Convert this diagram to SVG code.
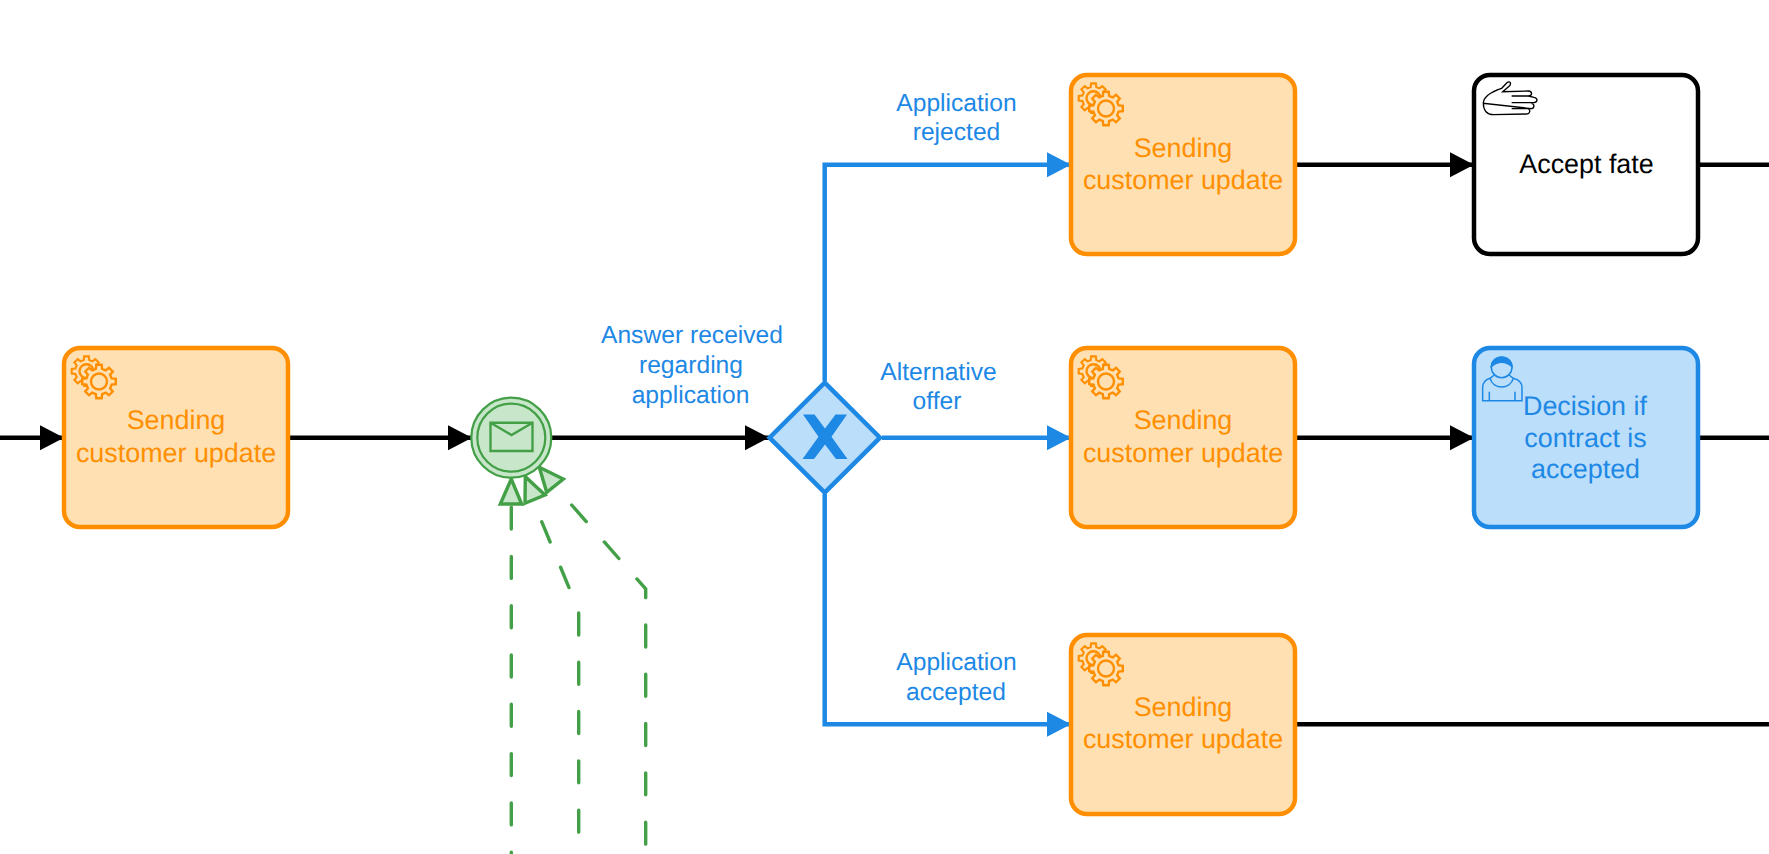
<svg xmlns="http://www.w3.org/2000/svg" xmlns:xlink="http://www.w3.org/1999/xlink" width="1769" height="854" viewBox="0 0 1769 854">
<style>
text{font-family:"Liberation Sans",Arial,sans-serif;text-anchor:middle;text-rendering:geometricPrecision}
.task{font-size:26.88px}
.lbl{font-size:24.64px;fill:#1e88e5}
.svc rect{fill:#ffe0b2;stroke:#ff8f00;stroke-width:4.48}
.svc text{fill:#ff8f00}
.blk{fill:none;stroke:#000;stroke-width:4.48}
.blu{fill:none;stroke:#1e88e5;stroke-width:4.48}
.grn{fill:none;stroke:#43a047;stroke-width:3.4;stroke-linecap:round;stroke-dasharray:22 27.3}
.gear{fill:#ffe0b2;stroke:#ff8f00;stroke-width:2.4}
</style>
<defs>
<marker id="ab" markerUnits="userSpaceOnUse" markerWidth="25" markerHeight="26" refX="24" refY="12.5" orient="auto" overflow="visible"><path d="M0,0L24,12.5L0,25Z" fill="#000"/></marker>
<marker id="au" markerUnits="userSpaceOnUse" markerWidth="25" markerHeight="26" refX="24" refY="12.5" orient="auto" overflow="visible"><path d="M0,0L24,12.5L0,25Z" fill="#1e88e5"/></marker>
<polygon id="g" points="12.61,-3.15 16.79,-2.66 16.79,2.66 12.61,3.15 11.14,6.7 13.75,9.99 9.99,13.75 6.7,11.14 3.15,12.61 2.66,16.79 -2.66,16.79 -3.15,12.61 -6.7,11.14 -9.99,13.75 -13.75,9.99 -11.14,6.7 -12.61,3.15 -16.79,2.66 -16.79,-2.66 -12.61,-3.15 -11.14,-6.7 -13.75,-9.99 -9.99,-13.75 -6.7,-11.14 -3.15,-12.61 -2.66,-16.79 2.66,-16.79 3.15,-12.61 6.7,-11.14 9.99,-13.75 13.75,-9.99 11.14,-6.7"/>
<g id="gears" class="gear">
<use xlink:href="#g" href="#g" transform="translate(22.5,23.2) scale(.88)"/>
<circle cx="22.5" cy="23.2" r="7"/>
<use xlink:href="#g" href="#g" transform="translate(35,33.5)"/>
<circle cx="35" cy="33.5" r="8"/>
</g>
</defs>
<rect width="1769" height="854" fill="#fff"/>
<g id="connectors">
<path class="blk" d="M0,437.7H64" marker-end="url(#ab)"/>
<path class="blk" d="M290,437.7H472" marker-end="url(#ab)"/>
<path class="blk" d="M552,437.7H769" marker-end="url(#ab)"/>
<path class="blu" d="M824.7,381V164.7H1071" marker-end="url(#au)"/>
<path class="blu" d="M882,437.7H1071" marker-end="url(#au)"/>
<path class="blu" d="M824.7,494V724.3H1071" marker-end="url(#au)"/>
<path class="blk" d="M1297,164.7H1474" marker-end="url(#ab)"/>
<path class="blk" d="M1297,437.7H1474" marker-end="url(#ab)"/>
<path class="blk" d="M1700,164.7H1769"/>
<path class="blk" d="M1700,437.7H1769"/>
<path class="blk" d="M1297,724.3H1769"/>
<path class="grn" d="M511.3,507.1V854"/>
<path class="grn" d="M541.7,521.7L578.7,611V854"/>
<path class="grn" d="M571.7,505L645.7,589V854"/>
<g fill="#c8e6c9" stroke="#43a047" stroke-width="3.4">
<path d="M511.3,479L500.3,504H521.7Z"/>
<path d="M525.3,476.7L525,503.3L545,495Z"/>
<path d="M539.3,467.3L563.3,479L546.7,492.3Z"/>
</g>
</g>
<g id="task-1" class="svc"><rect x="64" y="348" width="224" height="179" rx="16"/><use href="#gears" xlink:href="#gears" transform="translate(64,348)"/><text class="task" x="176" y="429.3">Sending</text><text class="task" x="176" y="461.7">customer update</text></g>
<g id="event-message" >
<circle cx="511.3" cy="437.7" r="40" fill="#c8e6c9" stroke="#43a047" stroke-width="2.24"/>
<circle cx="511.3" cy="437.7" r="34" fill="none" stroke="#43a047" stroke-width="2.24"/>
<path d="M490.5,422.8H532.5V451H490.5ZM490.5,422.8L511.5,435L532.5,422.8" fill="none" stroke="#43a047" stroke-width="2.4"/>
</g>
<g id="gateway">
<path d="M824.7,382.7L880,437.7L824.7,492.7L769.5,437.7Z" fill="#bbdefb" stroke="#1e88e5" stroke-width="4.48"/>
<path d="M803,414.5H814.5L825,428.5L835.5,414.5H847L831.5,436.7L847.5,459H836L825,444.5L814,459H802.5L818.5,436.7Z" fill="#1e88e5"/>
</g>
<g id="label-answer"><text class="lbl" x="692" y="343">Answer received</text><text class="lbl" x="691" y="373">regarding</text><text class="lbl" x="690.5" y="403">application</text></g>
<g id="label-rejected"><text class="lbl" x="956.5" y="111">Application</text><text class="lbl" x="956.5" y="140">rejected</text></g>
<g id="label-offer"><text class="lbl" x="938.5" y="380">Alternative</text><text class="lbl" x="937" y="409">offer</text></g>
<g id="label-accepted"><text class="lbl" x="956.5" y="670">Application</text><text class="lbl" x="956" y="700">accepted</text></g>
<g id="task-rejected" class="svc"><rect x="1071" y="75" width="224" height="179" rx="16"/><use href="#gears" xlink:href="#gears" transform="translate(1071,75)"/><text class="task" x="1183" y="157">Sending</text><text class="task" x="1183" y="189">customer update</text></g>
<g id="task-offer" class="svc"><rect x="1071" y="348" width="224" height="179" rx="16"/><use href="#gears" xlink:href="#gears" transform="translate(1071,348)"/><text class="task" x="1183" y="429.3">Sending</text><text class="task" x="1183" y="461.7">customer update</text></g>
<g id="task-accepted" class="svc"><rect x="1071" y="635" width="224" height="179" rx="16"/><use href="#gears" xlink:href="#gears" transform="translate(1071,635)"/><text class="task" x="1183" y="716">Sending</text><text class="task" x="1183" y="748">customer update</text></g>
<g id="task-accept-fate">
<rect x="1474" y="75" width="224" height="179" rx="16" fill="#fff" stroke="#000" stroke-width="4.48"/>
<g transform="translate(1460,60) scale(.3333)" fill="none" stroke="#000" stroke-width="4">
<path d="M70,130C70,108 95,95 125,85L142,67C152,62 154,72 148,78L128,95L205,93C218,94 218,107 205,108L155,108M205,108L222,112C234,114 234,127 222,128L155,128M222,128L215,130C224,132 224,145 215,146L155,146M215,146L205,147C212,150 210,162 200,162L100,164C80,164 70,150 70,130Z"/>
</g>
<text class="task" x="1586.5" y="173">Accept fate</text>
</g>
<g id="task-decision">
<rect x="1474" y="348" width="224" height="179" rx="16" fill="#bbdefb" stroke="#1e88e5" stroke-width="4.48"/>
<g transform="translate(1460,340) scale(.3333)" fill="none" stroke="#1e88e5" stroke-width="4.5">
<circle cx="125" cy="82" r="31"/>
<path d="M94,80C96,42 154,42 156,80C135,62 115,62 94,80Z" fill="#1e88e5"/>
<path d="M103,105L90,115C75,120 68,130 68,142V182H186V142C186,130 178,120 160,115L147,105M90,115C100,150 150,150 160,115M88,155V182M165,155V182"/>
</g>
<g fill="#1e88e5"><text class="task" x="1585" y="415">Decision if</text><text class="task" x="1585.5" y="447">contract is</text><text class="task" x="1585.5" y="478">accepted</text></g>
</g>
</svg>
